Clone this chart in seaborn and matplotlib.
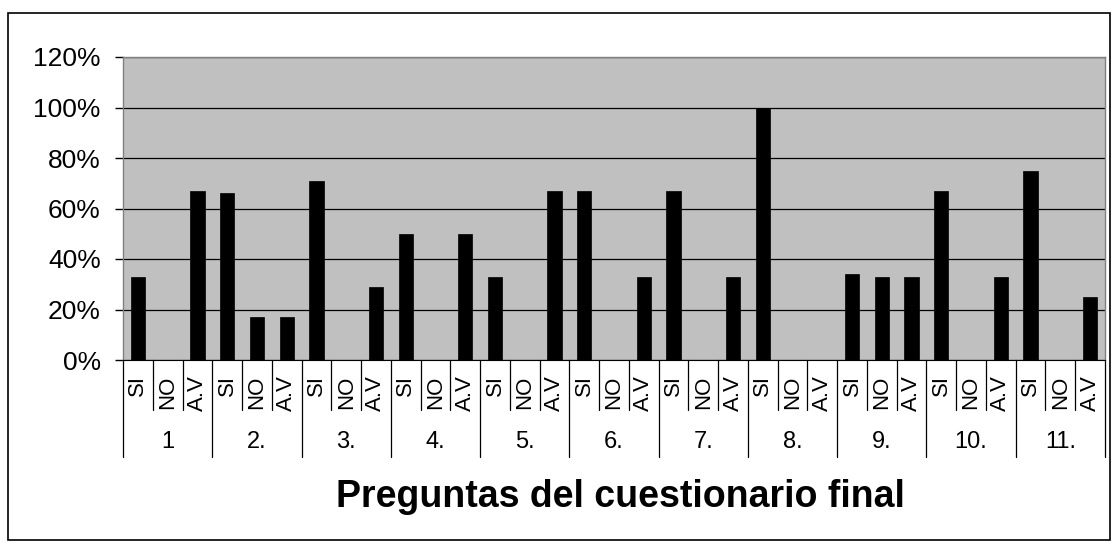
import seaborn as sns
import matplotlib.pyplot as plt
import matplotlib.transforms as mtransforms
from matplotlib.patches import Rectangle
from matplotlib.ticker import PercentFormatter
import pandas as pd

sns.set_style("white")
plt.rcParams["font.family"] = ["Liberation Sans", "DejaVu Sans"]
plt.rcParams["text.color"] = "black"
plt.rcParams["xtick.color"] = "black"
plt.rcParams["ytick.color"] = "black"
plt.rcParams["axes.labelcolor"] = "black"

# Porcentaje de respuestas por pregunta del cuestionario final
preguntas = ["1", "2.", "3.", "4.", "5.", "6.", "7.", "8.", "9.", "10.", "11."]
respuestas = ["SI", "NO", "A.V"]
si = [33, 66, 71, 50, 33, 67, 67, 100, 34, 67, 75]
no = [0, 17, 0, 0, 0, 0, 0, 0, 33, 0, 0]
av = [67, 17, 29, 50, 67, 33, 33, 0, 33, 33, 25]

rows = []
for i, p in enumerate(preguntas):
    for r, serie in zip(respuestas, [si, no, av]):
        rows.append({"clave": p + "|" + r, "pregunta": p, "respuesta": r,
                     "valor": serie[i] / 100})
df = pd.DataFrame(rows)

W, H = 1118, 544
fig, ax = plt.subplots(figsize=(W / 100, H / 100), dpi=100)
fig.subplots_adjust(left=123 / W, right=1105 / W, top=1 - 57 / H, bottom=1 - 360 / H)

# marco exterior del gráfico
fig.patches.append(Rectangle((8 / W, 4 / H), (1110 - 8) / W, (540 - 13) / H,
                             transform=fig.transFigure, fill=False,
                             edgecolor="black", lw=1.2))

ax.set_facecolor("#C0C0C0")
sns.barplot(data=df, x="clave", y="valor", color="black", width=0.48,
            saturation=1, edgecolor="black", linewidth=0.5, ax=ax,
            order=list(df["clave"]))

ax.set_ylim(0, 1.2)
ax.set_yticks([0, 0.2, 0.4, 0.6, 0.8, 1.0, 1.2])
ax.yaxis.set_major_formatter(PercentFormatter(1.0, decimals=0))
ax.yaxis.grid(True, color="black", lw=0.9)
ax.set_axisbelow(True)
ax.set_xlim(-0.5, len(df) - 0.5)

for s in ["left", "top", "right"]:
    ax.spines[s].set_color("#808080")
    ax.spines[s].set_linewidth(1)
ax.spines["bottom"].set_color("black")

ax.tick_params(axis="y", left=True, length=6, width=1, color="black",
               labelsize=19, pad=10)
ax.set_xticks(range(len(df)))
ax.set_xticklabels(df["respuesta"], rotation=90, fontsize=16)
ax.tick_params(axis="x", length=0, pad=11)
ax.set_xlabel("")
ax.set_ylabel("")

# eje de categorías en dos niveles
ax_h = H * (1 - 57 / H - (1 - 360 / H))
blend = mtransforms.blended_transform_factory(ax.transData, ax.transAxes)
for i in range(len(df) + 1):
    depth = 97 if i % 3 == 0 else 50
    ax.plot([i - 0.5, i - 0.5], [0, -depth / ax_h], color="black", lw=0.9,
            transform=blend, clip_on=False)
for g, p in enumerate(preguntas):
    ax.text(g * 3 + 1, -82 / ax_h, p, transform=blend, ha="center",
            va="center", fontsize=17)

fig.text(620 / W, 1 - 497 / H, "Preguntas del cuestionario final",
         ha="center", va="center", fontsize=27, fontweight="bold")

fig.savefig("out.png", dpi=100)
